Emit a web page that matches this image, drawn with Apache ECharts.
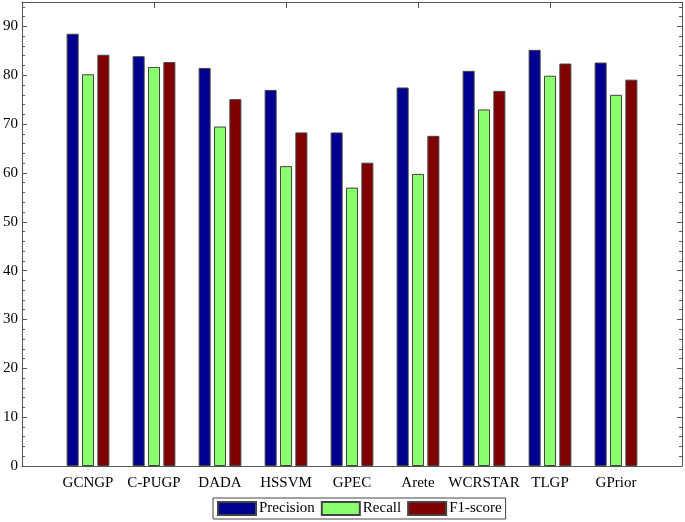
<!DOCTYPE html>
<html><head><meta charset="utf-8">
<script src="https://cdn.jsdelivr.net/npm/echarts@6/dist/echarts.min.js"></script>
<style>html,body{margin:0;padding:0;background:#fff}#c{width:685px;height:522px}</style>
</head><body><div id="c"></div>
<script>
const categories = ['GCNGP','C-PUGP','DADA','HSSVM','GPEC','Arete','WCRSTAR','TLGP','GPrior'];
const precision = [88.5, 83.9, 81.5, 77.0, 68.3, 77.5, 80.9, 85.2, 82.6];
const recall    = [80.2, 81.7, 69.5, 61.4, 57.0, 59.8, 73.0, 79.9, 76.0];
const f1score   = [84.2, 82.7, 75.1, 68.3, 62.1, 67.6, 76.8, 82.4, 79.1];
const yTicks = [0,10,20,30,40,50,60,70,80,90];

const pad = arr => [null, ...arr, null];
const axisData = ['', ...categories, ''];
const font = 'Liberation Serif';
const lineCol = '#555';

const chart = echarts.init(document.getElementById('c'), null, {renderer:'canvas'});
const mkBar = (name, data, color) => ({
  name, type:'bar', data: pad(data), barWidth: 12, barGap: '28%',
  itemStyle: {color, borderColor:'#444', borderWidth:1}
});
const yCommon = {type:'value', min:0, max:95, interval:10,
  axisLine:{show:true, onZero:false, lineStyle:{color:lineCol, width:1}},
  axisTick:{show:true, inside:true, length:5, lineStyle:{color:lineCol}},
  minorTick:{show:true, splitNumber:5, length:3, lineStyle:{color:lineCol}},
  splitLine:{show:false}};
chart.setOption({
  animation:false,
  backgroundColor:'#fff',
  grid:{left:22, right:2, top:2, bottom:56, containLabel:false},
  legend:{
    bottom:3, left:213, itemWidth:38, itemHeight:13, itemGap:6, icon:'rect',
    borderColor:'#444', borderWidth:1, padding:[3,4,3,4], backgroundColor:'#fff',
    textStyle:{fontFamily:font, fontSize:15, color:'#000', padding:[0,0,0,-2]},
    data:['Precision','Recall','F1-score']
  },
  xAxis:[
    {type:'category', data:axisData, boundaryGap:false, position:'bottom',
     axisLine:{onZero:false, lineStyle:{color:lineCol, width:1}},
     axisTick:{inside:true, length:6, lineStyle:{color:lineCol}},
     axisLabel:{fontFamily:font, fontSize:15, color:'#000', margin:10, interval:0},
     splitLine:{show:false}},
    {type:'category', data:axisData, boundaryGap:false, position:'top',
     axisLine:{onZero:false, lineStyle:{color:lineCol, width:1}},
     axisTick:{inside:true, length:6, lineStyle:{color:lineCol}},
     axisLabel:{show:false}, splitLine:{show:false}}
  ],
  yAxis:[
    Object.assign({}, yCommon, {position:'left',
     axisLabel:{fontFamily:font, fontSize:15, color:'#000', margin:4,
       formatter: v => yTicks.includes(v) ? String(v) : ''}}),
    Object.assign({}, yCommon, {position:'right', axisLabel:{show:false}})
  ],
  series:[
    mkBar('Precision', precision, '#000090'),
    mkBar('Recall', recall, '#8CFF6E'),
    mkBar('F1-score', f1score, '#800000')
  ]
});
</script></body></html>
